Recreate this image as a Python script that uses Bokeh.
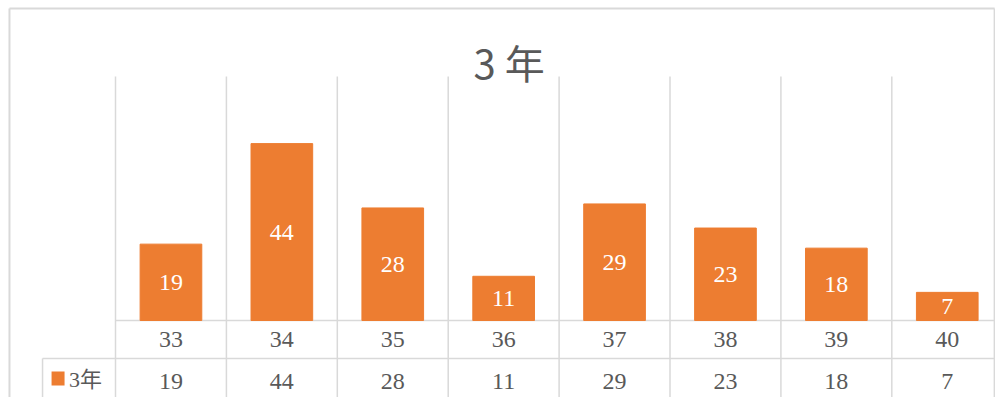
from bokeh.plotting import figure
from bokeh.models import Range1d, ColumnDataSource
from bokeh.core.properties import value
from bokeh.embed import file_html
from bokeh.resources import INLINE

categories = ["33", "34", "35", "36", "37", "38", "39", "40"]
values_3nen = [19, 44, 28, 11, 29, 23, 18, 7]
series_name = "3年"
chart_title = "3 年"

ORANGE = "#ED7D31"
GRID = "#D9D9D9"
TEXT = "#595959"
SERIF = value("'Liberation Serif', 'Noto Sans CJK JP', serif")

n = len(categories)
xs = [i + 0.5 for i in range(n)]

# layout constants in data units
X_MIN, X_MAX = -1.037, 7.935
Y_MIN, Y_MAX = -19.15, 79.6
Y_TOP_GRID = 60.7
Y_ROW_SPLIT = -9.45
Y_CAT = -4.73
Y_VAL = -15.2
X_TABLE_LEFT = -0.658
X_BORDER_LEFT = -0.956
Y_BORDER_TOP = 77.6

p = figure(width=995, height=397, output_backend="svg", toolbar_location=None,
           x_range=Range1d(X_MIN, X_MAX), y_range=Range1d(Y_MIN, Y_MAX),
           min_border=0, min_border_left=0, min_border_right=0,
           min_border_top=0, min_border_bottom=0)
p.axis.visible = False
p.xgrid.visible = False
p.ygrid.visible = False
p.outline_line_color = None
p.background_fill_color = "white"
p.border_fill_color = "white"

# chart outer border
p.line([X_BORDER_LEFT, X_MAX - 0.008], [Y_BORDER_TOP, Y_BORDER_TOP], line_color=GRID, line_width=2)
p.line([X_BORDER_LEFT, X_BORDER_LEFT], [Y_MIN, Y_BORDER_TOP], line_color=GRID, line_width=2)
p.line([X_MAX - 0.008, X_MAX - 0.008], [Y_MIN, Y_BORDER_TOP], line_color=GRID, line_width=2)

# vertical grid / table lines
for i in range(n):
    p.line([i, i], [Y_MIN, Y_TOP_GRID], line_color=GRID, line_width=1.5)
# table horizontal lines
p.line([0, X_MAX], [0, 0], line_color=GRID, line_width=1.5)
p.line([X_TABLE_LEFT, X_MAX], [Y_ROW_SPLIT, Y_ROW_SPLIT], line_color=GRID, line_width=1.5)
p.line([X_TABLE_LEFT, X_TABLE_LEFT], [Y_ROW_SPLIT, Y_MIN], line_color=GRID, line_width=1.5)

src = ColumnDataSource(dict(
    x=xs, top=values_3nen, mid=[v / 2 for v in values_3nen],
    lab=[str(v) for v in values_3nen], cat=categories,
    ycat=[Y_CAT] * n, yval=[Y_VAL] * n))

p.vbar(x="x", top="top", bottom=0, width=0.556, source=src,
       fill_color=ORANGE, line_color=ORANGE)

p.text(x="x", y="mid", text="lab", source=src, text_color="white",
       text_font=SERIF, text_font_size="24px",
       text_align="center", text_baseline="middle")
p.text(x="x", y="ycat", text="cat", source=src, text_color=TEXT,
       text_font=SERIF, text_font_size="24px",
       text_align="center", text_baseline="middle")
p.text(x="x", y="yval", text="lab", source=src, text_color=TEXT,
       text_font=SERIF, text_font_size="24px",
       text_align="center", text_baseline="middle")

# legend key in data table
p.rect(x=[-0.518], y=[-14.4], width=13, height=14, width_units="screen",
       height_units="screen", fill_color=ORANGE, line_color=None)
p.text(x=[-0.42], y=[-14.6], text=[series_name], text_color=TEXT,
       text_font=SERIF, text_font_size="22px",
       text_align="left", text_baseline="middle")

# title
p.text(x=[3.55], y=[64.4], text=[chart_title], text_color=TEXT,
       text_font=value("Noto Sans CJK JP"), text_font_size="40px",
       text_align="center", text_baseline="middle")

open("out.html", "w").write(file_html(p, INLINE))
